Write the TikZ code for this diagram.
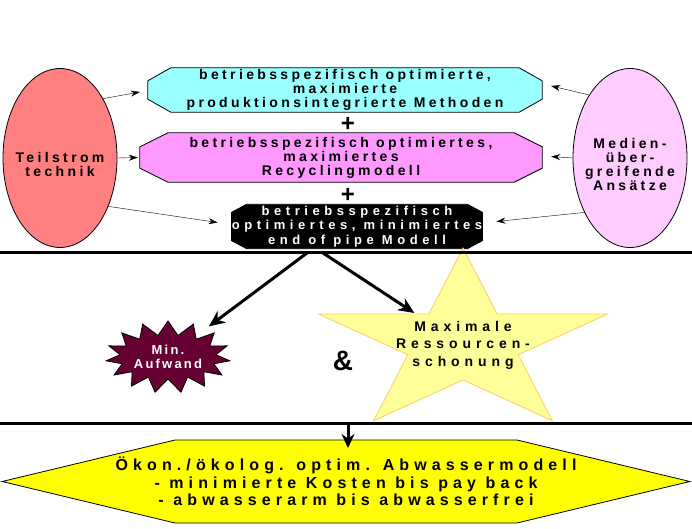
\documentclass[tikz,border=0pt]{standalone}
\usepackage{fontspec}
\setmainfont{Liberation Sans}[LetterSpace=24]
\newfontfamily\widefont{Liberation Sans}[LetterSpace=35]
\newfontfamily\bottomfont{Liberation Sans}[LetterSpace=32]
\newfontfamily\tightfont{Liberation Sans}[LetterSpace=17]
\usetikzlibrary{shapes.geometric, shapes.symbols, arrows.meta, positioning, calc, backgrounds}
\definecolor{boxcyan}{RGB}{153,255,255}
\definecolor{boxpink}{RGB}{255,153,255}
\definecolor{teilred}{RGB}{255,128,128}
\definecolor{medlilac}{RGB}{255,204,255}
\definecolor{minmaroon}{RGB}{102,0,51}
\definecolor{staryellow}{RGB}{255,255,153}
\definecolor{staredge}{RGB}{255,204,102}
\definecolor{resyellow}{RGB}{255,255,0}
% octagon behind a box node: name, corner cut x, corner cut y, fill
\newcommand\octback[4]{%
  \draw[thick, fill=#4] ($(#1.north west)+(#2,0)$) -- ($(#1.north east)+(-#2,0)$)
    -- ($(#1.north east)+(0,#3)$) -- ($(#1.south east)+(0,-#3)$)
    -- ($(#1.south east)+(-#2,0)$) -- ($(#1.south west)+(#2,0)$)
    -- ($(#1.south west)+(0,-#3)$) -- ($(#1.north west)+(0,#3)$) -- cycle;}

\begin{document}
\begin{tikzpicture}[x=1pt, y=-1pt, font=\fontsize{14}{14}\selectfont\bfseries,
  boxtext/.style={align=center, inner sep=0pt},
  plussign/.style={inner sep=0pt, font=\fontsize{24}{24}\selectfont\bfseries},
  oval/.style={ellipse, draw, thick, minimum width=114pt, minimum height=179pt},
  ovaltext/.style={align=center, yshift=-6pt},
  thinarr/.style={-{Stealth[length=9pt,width=6pt]}},
  bigarr/.style={line width=3pt, -{Stealth[length=16pt,width=14pt]}},
  bar/.style={line width=3pt}]
  \useasboundingbox (0,0) rectangle (692,529);

  % Three model boxes
  \node[boxtext, minimum width=394pt, minimum height=44pt] (meth) at (345,90)
        {betriebsspezifisch optimierte,\\maximierte\\produktionsintegrierte Methoden};
  \node[plussign] (plusA) at (348,124) {+};
  \node[boxtext, minimum width=402pt, minimum height=49pt] (recy) at (341,157.5)
        {betriebsspezifisch optimiertes,\\maximiertes\\Recyclingmodell};
  \node[plussign] (plusB) at (348,195) {+};
  \node[boxtext, minimum width=250pt, minimum height=44pt, text=white,
        font=\widefont\fontsize{13}{14.5}\selectfont\bfseries] (eop) at (357,226.5)
        {betriebsspezifisch\\optimiertes, minimiertes\\end of pipe Modell};
  \begin{scope}[on background layer]
    \octback{meth}{23}{13}{boxcyan}
    \octback{recy}{28}{14}{boxpink}
    \octback{eop}{15}{8}{black}
  \end{scope}

  % Side ovals
  \node[oval, fill=teilred, label={[ovaltext]center:Teilstrom\\technik}] (teil) at (60,158) {};
  \node[oval, fill=medlilac, label={[ovaltext]center:Medien-\\über-\\greifende\\Ansätze}] (med) at (630,158) {};

  \draw[thinarr] (teil.54) -- ($(meth.west)+(-8,2)$);
  \draw[thinarr] (teil.east) -- ($(recy.west)+(-2,0)$);
  \draw[thinarr] (teil.-45) -- ($(eop.west)+(-14,-4)$);
  \draw[thinarr] (med.123) -- ($(meth.east)+(9,-4)$);
  \draw[thinarr] (med.west) -- ($(recy.east)+(9,-1)$);
  \draw[thinarr] (med.230) -- ($(eop.east)+(14,-5)$);

  % Star
  \draw[fill=staryellow, draw=staredge, thick] (463,248)
    \foreach \a/\r in {126/0.382, 162/1, 198/0.382, 234/1, 270/0.382, 306/1, 342/0.382, 18/1, 54/0.382}
      { -- ({463+152*\r*cos(\a)}, {343.5-95.5*\r*sin(\a)}) } -- cycle;
  \node[align=center, font=\widefont\fontsize{14}{17.5}\selectfont\bfseries] (maxr) at (463,345)
        {Maximale\\Ressourcen-\\schonung};

  \node[starburst, starburst points=15, starburst point height=14pt, random starburst=0,
        fill=minmaroon, draw, thick, text=white, align=center,
        font=\tightfont\fontsize{13}{13.5}\selectfont\bfseries,
        minimum width=120pt, minimum height=72pt, inner sep=0pt] (minw) at (168,357) {Min.\\Aufwand};
  \node[font=\fontsize{28}{28}\selectfont\bfseries] (amp) at (343,361) {\&};

  % Separator bars
  \draw[bar] (0,252) -- (692,252);
  \draw[bar] (0,423) -- (692,423);

  \coordinate (forkL) at (307,253);
  \coordinate (forkR) at (323,253);
  \draw[bigarr, shorten >=16pt] (forkL) -- (minw);
  \draw[bigarr, shorten >=8pt] (forkR) -- (maxr);

  % Result
  \node[signal, signal to=west and east, signal pointer angle=27, draw, thick,
        fill=resyellow, minimum height=83pt, inner sep=0pt,
        label={[boxtext, font=\bottomfont\fontsize{16}{17.5}\selectfont\bfseries]center:Ökon./ökolog. optim. Abwassermodell\\- minimierte Kosten bis pay back\\- abwasserarm bis abwasserfrei}]
        (res) at (346,481.5) {\hspace*{342pt}};
  \coordinate (drop) at (348,424);
  \coordinate (droptip) at (348,448);
  \draw[line width=3pt, -{Stealth[length=14pt,width=13pt]}] (drop) -- (droptip);
\end{tikzpicture}
\end{document}
